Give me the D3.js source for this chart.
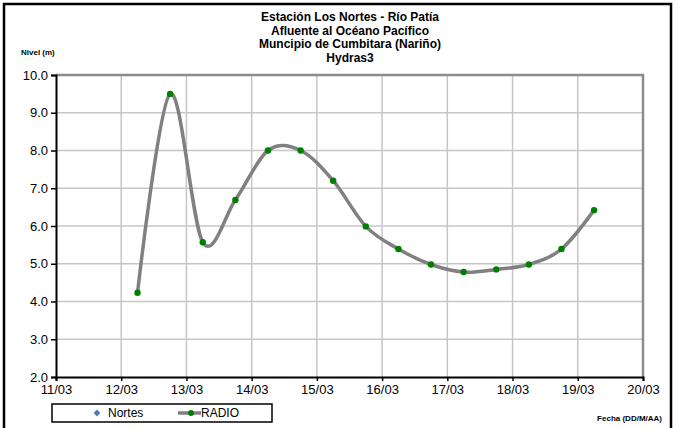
<!DOCTYPE html>
<html>
<head>
<meta charset="utf-8">
<script src="https://cdn.jsdelivr.net/npm/d3@7"></script>
<style>
  html, body { margin: 0; padding: 0; background: #fff; }
  svg { display: block; font-family: "Liberation Sans", Arial, sans-serif; }
</style>
</head>
<body>
<svg id="chart" width="677" height="428"></svg>
<script>
// Level readings, every 12 hours
const times = [
  "2011-03-12T06:00", "2011-03-12T18:00", "2011-03-13T06:00", "2011-03-13T18:00",
  "2011-03-14T06:00", "2011-03-14T18:00", "2011-03-15T06:00", "2011-03-15T18:00",
  "2011-03-16T06:00", "2011-03-16T18:00", "2011-03-17T06:00", "2011-03-17T18:00",
  "2011-03-18T06:00", "2011-03-18T18:00", "2011-03-19T06:00"
];
const radioLevels = [4.23, 9.50, 5.57, 6.69, 8.00, 8.00, 7.20, 5.99, 5.39, 4.98, 4.78, 4.85, 4.98, 5.39, 6.42];
const nortesLevels = []; // no readings in this period

const xTickDays = ["2011-03-11", "2011-03-12", "2011-03-13", "2011-03-14", "2011-03-15",
                   "2011-03-16", "2011-03-17", "2011-03-18", "2011-03-19", "2011-03-20"];
const yTicks = [2, 3, 4, 5, 6, 7, 8, 9, 10];

const titleLines = [
  "Estación Los Nortes  - Río Patía",
  "Afluente al Océano Pacífico",
  "Muncipio de Cumbitara (Nariño)",
  "Hydras3"
];

const parseTime = d3.utcParse("%Y-%m-%dT%H:%M");
const parseDay = d3.utcParse("%Y-%m-%d");

const svg = d3.select("#chart");
const plot = { left: 56, right: 643, top: 75, bottom: 377 };

// Outer frame
svg.append("rect")
  .attr("x", 4).attr("y", 4).attr("width", 667).attr("height", 430)
  .attr("fill", "none").attr("stroke", "#000").attr("stroke-width", 2.5);

const x = d3.scaleUtc()
  .domain([parseDay(xTickDays[0]), parseDay(xTickDays[xTickDays.length - 1])])
  .range([plot.left, plot.right]);
const y = d3.scaleLinear().domain([2, 10]).range([plot.bottom, plot.top]);

// Gridlines
const grid = svg.append("g").attr("stroke", "#c6c6c6").attr("stroke-width", 1.5);
grid.selectAll("line.h").data(yTicks.slice(1)).join("line")
  .attr("x1", plot.left).attr("x2", plot.right)
  .attr("y1", d => y(d)).attr("y2", d => y(d));
grid.selectAll("line.v").data(xTickDays.slice(1)).join("line")
  .attr("x1", d => x(parseDay(d))).attr("x2", d => x(parseDay(d)))
  .attr("y1", plot.top).attr("y2", plot.bottom);

// Plot-area border on top and right
svg.append("path")
  .attr("d", `M${plot.left},${plot.top}H${plot.right}V${plot.bottom}`)
  .attr("fill", "none").attr("stroke", "#8c8c8c").attr("stroke-width", 2.5);

// Axes
const yAxis = d3.axisLeft(y).tickValues(yTicks).tickFormat(d3.format(".1f")).tickSize(5).tickPadding(3);
const xAxis = d3.axisBottom(x).tickValues(xTickDays.map(parseDay))
  .tickFormat(d3.utcFormat("%d/%m")).tickSize(4).tickPadding(4);

const gy = svg.append("g").attr("transform", `translate(${plot.left},0)`).call(yAxis);
const gx = svg.append("g").attr("transform", `translate(0,${plot.bottom})`).call(xAxis);
[gx, gy].forEach(g => {
  g.select(".domain").attr("stroke", "#000").attr("stroke-width", 2);
  g.selectAll(".tick line").attr("stroke", "#000").attr("stroke-width", 1.5);
  g.selectAll(".tick text").attr("fill", "#000").style("font-size", "13px")
    .style("font-family", "'Liberation Sans', Arial, sans-serif");
});

// Series line (smoothed) and markers
const pts = times.map((t, i) => ({ t: parseTime(t), v: radioLevels[i] }));
const line = d3.line().x(d => x(d.t)).y(d => y(d.v)).curve(d3.curveCardinal.tension(0));
svg.append("path").datum(pts)
  .attr("d", line).attr("fill", "none")
  .attr("stroke", "#808080").attr("stroke-width", 3.5)
  .attr("stroke-linejoin", "round").attr("stroke-linecap", "round");
svg.append("g").selectAll("circle").data(pts).join("circle")
  .attr("cx", d => x(d.t)).attr("cy", d => y(d.v)).attr("r", 3.2)
  .attr("fill", "#008000");

// Title
const title = svg.append("g").attr("font-weight", "bold").attr("font-size", 12).attr("fill", "#000");
title.selectAll("text").data(titleLines).join("text")
  .attr("x", 350).attr("y", (d, i) => 21 + i * 13.5)
  .attr("text-anchor", "middle")
  .text(d => d);

// Axis titles
svg.append("text").attr("x", 21).attr("y", 55)
  .attr("font-size", 8).attr("font-weight", "bold").text("Nivel (m)");
svg.append("text").attr("x", 662).attr("y", 421).attr("text-anchor", "end")
  .attr("font-size", 8).attr("font-weight", "bold").text("Fecha (DD/M/AA)");

// Legend
const lg = svg.append("g");
lg.append("rect").attr("x", 52).attr("y", 404).attr("width", 220).attr("height", 18)
  .attr("fill", "#fff").attr("stroke", "#000").attr("stroke-width", 1.5);
lg.append("path").attr("d", d3.symbol(d3.symbolDiamond2, 30)())
  .attr("transform", "translate(97,413)").attr("fill", "#4a7ebb");
lg.append("text").attr("x", 108).attr("y", 417).attr("font-size", 12).text("Nortes");
lg.append("line").attr("x1", 178).attr("x2", 201).attr("y1", 413).attr("y2", 413)
  .attr("stroke", "#808080").attr("stroke-width", 3.5);
lg.append("circle").attr("cx", 191).attr("cy", 413).attr("r", 3).attr("fill", "#008000");
lg.append("text").attr("x", 201).attr("y", 417).attr("font-size", 12).text("RADIO");
</script>
</body>
</html>
